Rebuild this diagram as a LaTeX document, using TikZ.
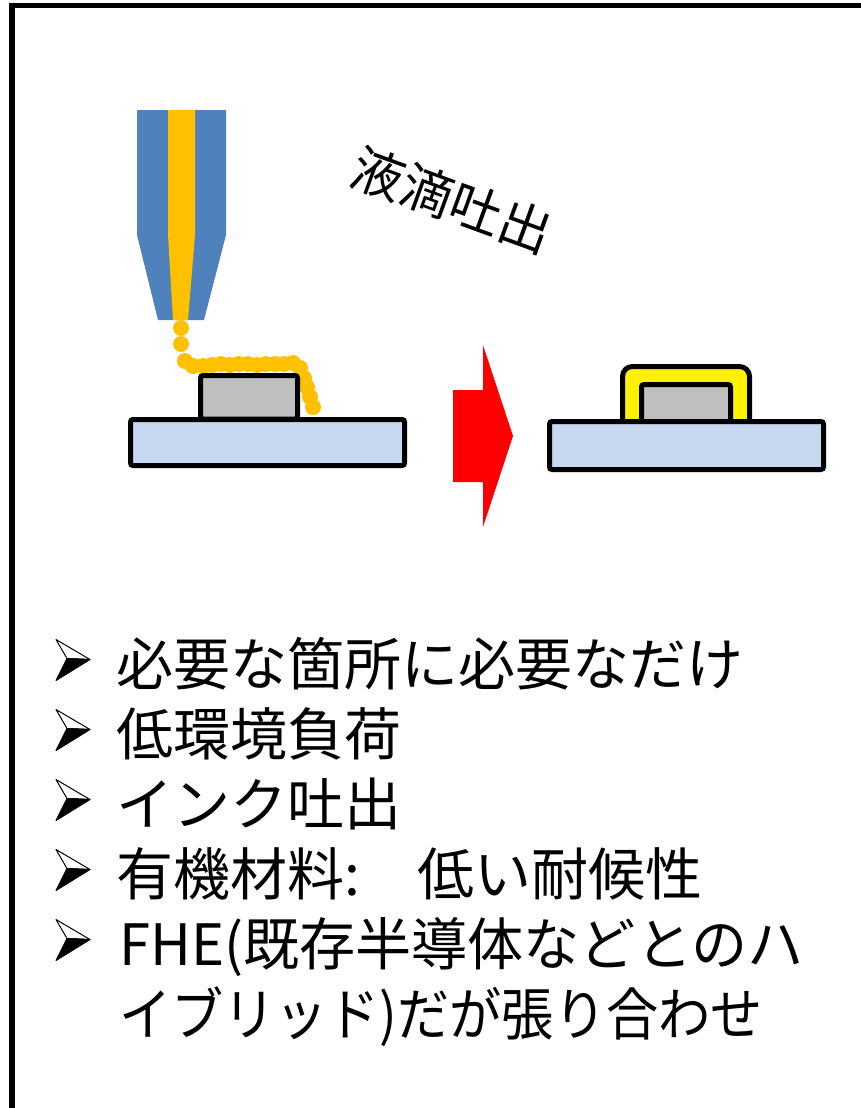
\documentclass[tikz,border=0pt]{standalone}
\usepackage{fontspec}
\setmainfont{Noto Sans CJK JP}
\usepackage{graphicx}
\usepackage{tikz}
\definecolor{nozzleblue}{HTML}{4F81BD}
\definecolor{inkyellow}{HTML}{FFC000}
\definecolor{subblue}{HTML}{C6D9F0}
\definecolor{chipgray}{HTML}{BFBFBF}
\tikzstyle{outl}  = [draw=black, line width=5pt, rounded corners=2.5pt]
\tikzstyle{item}  = [anchor=west, inner sep=0pt, text height=50pt, text depth=7pt,
                     font=\fontsize{57}{60}\selectfont]
\tikzset{arrowmark/.pic={
  \filldraw[fill=white, line width=1pt, line join=round] (0,-20.5) -- (34,-0.5) -- (11,-1.5) -- cycle;
  \filldraw[fill=black, line width=1pt, line join=round] (11,-1.5) -- (34,-0.5) -- (0,20.5) -- cycle;
}}

\begin{document}
\begin{tikzpicture}[x=1pt, y=-1pt]
  \useasboundingbox (0,0) rectangle (861,1108);
  \clip (0,0) rectangle (861,1108);

  % --- frame ---
  \draw[line width=5.5pt] (12,5.5) rectangle (900,1150);

  % --- nozzle ---
  \fill[nozzleblue] (137,110) -- (226,110) -- (226,235) -- (204,320)
                    -- (158,320) -- (137,235) -- cycle;
  \fill[inkyellow] (168,110) -- (195,110) -- (195,235) -- (188,320)
                   -- (173,320) -- (168,235) -- cycle;

  % droplets
  \foreach \p in {(181,328),(181,344),(185,361),(193,366),(203,366),(212,365),
                  (221,364),(230,365),(239,364),(248,364),(257,365),(266,364),
                  (275,364),(284,364),(293,363),(300,368),(304,378),(307,387),
                  (310,397),(313,407)}
    \fill[inkyellow] \p circle (8);

  % --- before: chip on substrate ---
  \draw[outl, fill=chipgray] (200.5,375.5) rectangle (297.5,419);
  \draw[outl, fill=subblue] (130.5,419.5) rectangle (404.5,465.5);

  \node[rotate=-20, font=\fontsize{52}{55}\selectfont] (drop) at (452,200) {液滴吐出};

  % --- big arrow ---
  \fill[red] (453,390) -- (483,390) -- (483,345) -- (513,436) -- (483,527)
             -- (483,482) -- (453,482) -- cycle;

  % --- after: coated chip ---
  \draw[outl, fill=yellow, rounded corners=10pt] (622.5,366.5) rectangle (749.5,432);
  \draw[outl, fill=chipgray] (641.5,384.5) rectangle (730.5,423);
  \draw[outl, fill=subblue] (549.5,421.5) rectangle (823.5,469.5);

  % --- list ---
  \foreach \y in {660,730,800,870,940}
    \pic at (56,\y) {arrowmark};

  \node[item] (i1) at (116,664) {必要な箇所に必要なだけ};
  \node[item] (i2) at (116,734) {低環境負荷};
  \node[item] (i3) at (116,804) {インク吐出};
  \node[item] (i4) at (116,874) {有機材料:　低い耐候性};
  \node[item] (i5) at (119,944) {\scalebox{0.985}[1]{FHE(既存半導体などとのハ}};
  \node[item] (i6) at (119,1014) {\scalebox{0.915}[1]{イブリッド)だが張り合わせ}};
\end{tikzpicture}
\end{document}
